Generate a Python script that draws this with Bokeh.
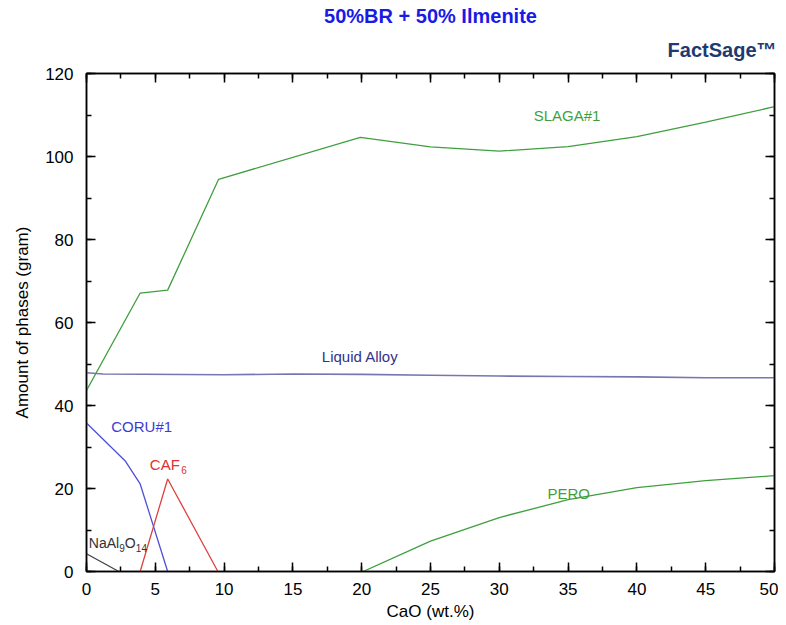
from bokeh.plotting import figure
from bokeh.models import LinearAxis, Label, Range1d, SingleIntervalTicker, Title
from bokeh.embed import file_html
from bokeh.resources import INLINE

# ---- data ----
slag_x = [0, 3.9, 5.9, 9.6, 19.9, 25, 30, 35, 40, 45, 50]
slag_y = [43.6, 67.1, 67.8, 94.5, 104.6, 102.3, 101.3, 102.4, 104.8, 108.3, 112.0]

alloy_x = [0, 1.2, 10, 15, 20, 25, 30, 35, 40, 45, 50]
alloy_y = [47.9, 47.6, 47.4, 47.6, 47.5, 47.3, 47.1, 47.0, 46.9, 46.7, 46.7]

coru_x = [0, 2.8, 3.9, 5.9]
coru_y = [35.8, 26.7, 21.1, 0]

caf6_x = [3.9, 5.9, 9.55]
caf6_y = [0, 22.3, 0]

naal_x = [0, 2.35]
naal_y = [4.3, 0]

pero_x = [20.1, 25, 30, 35, 40, 45, 50]
pero_y = [0, 7.3, 13.0, 17.3, 20.2, 21.9, 23.1]

title_text = "50%BR + 50% Ilmenite"
logo_text = "FactSage\u2122"
x_label = "CaO (wt.%)"
y_label = "Amount of phases (gram)"

GREEN = "#3f9f3f"
NAVY = "#1d3a72"
FONT = "Liberation Sans"

p = figure(frame_width=688, frame_height=498, min_border_left=86, min_border_top=73,
           min_border_bottom=40, min_border_right=4,
           x_range=Range1d(0, 50), y_range=Range1d(0, 120),
           output_backend="svg", toolbar_location=None, tools="")
p.background_fill_color = "white"
p.border_fill_color = "white"
p.grid.visible = False
p.outline_line_color = "black"
p.outline_line_width = 1.5

def style_axis(ax, show_labels=True):
    ax.axis_line_color = "black"
    ax.axis_line_width = 1.5
    ax.major_tick_in = 9
    ax.major_tick_out = 0
    ax.minor_tick_in = 5
    ax.minor_tick_out = 0
    ax.major_tick_line_width = 1.5
    ax.minor_tick_line_width = 1.5
    ax.major_tick_line_color = "black"
    ax.minor_tick_line_color = "black"
    ax.major_label_text_font = FONT
    ax.major_label_text_font_size = "17px"
    ax.major_label_text_color = "black" if show_labels else None
    ax.axis_label_text_font = FONT
    ax.axis_label_text_font_size = "17px"
    ax.axis_label_text_font_style = "normal"
    ax.axis_label_text_color = "black"

p.xaxis.ticker = SingleIntervalTicker(interval=5, num_minor_ticks=2)
p.yaxis.ticker = SingleIntervalTicker(interval=20, num_minor_ticks=2)
for ax in p.xaxis + p.yaxis:
    style_axis(ax)
p.xaxis.axis_label = x_label
p.yaxis.axis_label = y_label
p.xaxis.major_label_standoff = 11
p.yaxis.major_label_standoff = 13
p.xaxis.axis_label_standoff = 4
p.yaxis.axis_label_standoff = 10

top = LinearAxis(ticker=SingleIntervalTicker(interval=5, num_minor_ticks=2))
style_axis(top, False)
top.major_label_text_font_size = "1px"
top.major_label_standoff = 0
p.add_layout(top, "above")
right = LinearAxis(ticker=SingleIntervalTicker(interval=20, num_minor_ticks=2))
style_axis(right, False)
right.major_label_text_font_size = "1px"
right.major_label_standoff = 0
p.add_layout(right, "right")

# ---- lines ----
p.line(slag_x, slag_y, line_color=GREEN, line_width=1.3)
p.line(alloy_x, alloy_y, line_color="#7676b4", line_width=1.6)
p.line(coru_x, coru_y, line_color="#4f4fd8", line_width=1.3)
p.line(caf6_x, caf6_y, line_color="#e04040", line_width=1.3)
p.line(naal_x, naal_y, line_color="#404040", line_width=1.2)
p.line(pero_x, pero_y, line_color=GREEN, line_width=1.3)

def lab(x, y, t, color, size="15px", xo=0, yo=0, align="left", base="middle",
        style="normal", font=FONT):
    p.add_layout(Label(x=x, y=y, text=t, text_color=color, text_font_size=size,
                       x_offset=xo, y_offset=yo, text_align=align, text_baseline=base,
                       text_font=font, text_font_style=style))

lab(32.5, 109.9, "SLAGA#1", GREEN)
lab(17.1, 51.7, "Liquid Alloy", "#33338a")
lab(1.8, 34.9, "CORU#1", "#3c3cd4")
lab(4.6, 25.8, "CAF", "#e03030")
lab(4.6, 25.8, "6", "#e03030", size="10px", xo=31.5, yo=-6)
lab(0.17, 6.8, "NaAl", "#333333", size="14px")
lab(0.17, 6.8, "9", "#333333", size="10px", xo=30.5, yo=-5)
lab(0.17, 6.8, "O", "#333333", size="14px", xo=36)
lab(0.17, 6.8, "14", "#333333", size="10px", xo=47, yo=-5)
lab(33.5, 18.8, "PERO", GREEN)

# ---- logo (closer to the frame) and title (outermost) ----
logo = Title(text=logo_text, align="right", text_color=NAVY, text_font=FONT,
             text_font_size="20px", text_font_style="bold", offset=-2, standoff=26)
p.add_layout(logo, "above")

p.title.text = title_text
p.title.align = "center"
p.title.text_color = "#1a1ae6"
p.title.text_font = FONT
p.title.text_font_size = "20px"
p.title.text_font_style = "bold"
p.title.standoff = -6

open("out.html", "w").write(file_html(p, INLINE))
